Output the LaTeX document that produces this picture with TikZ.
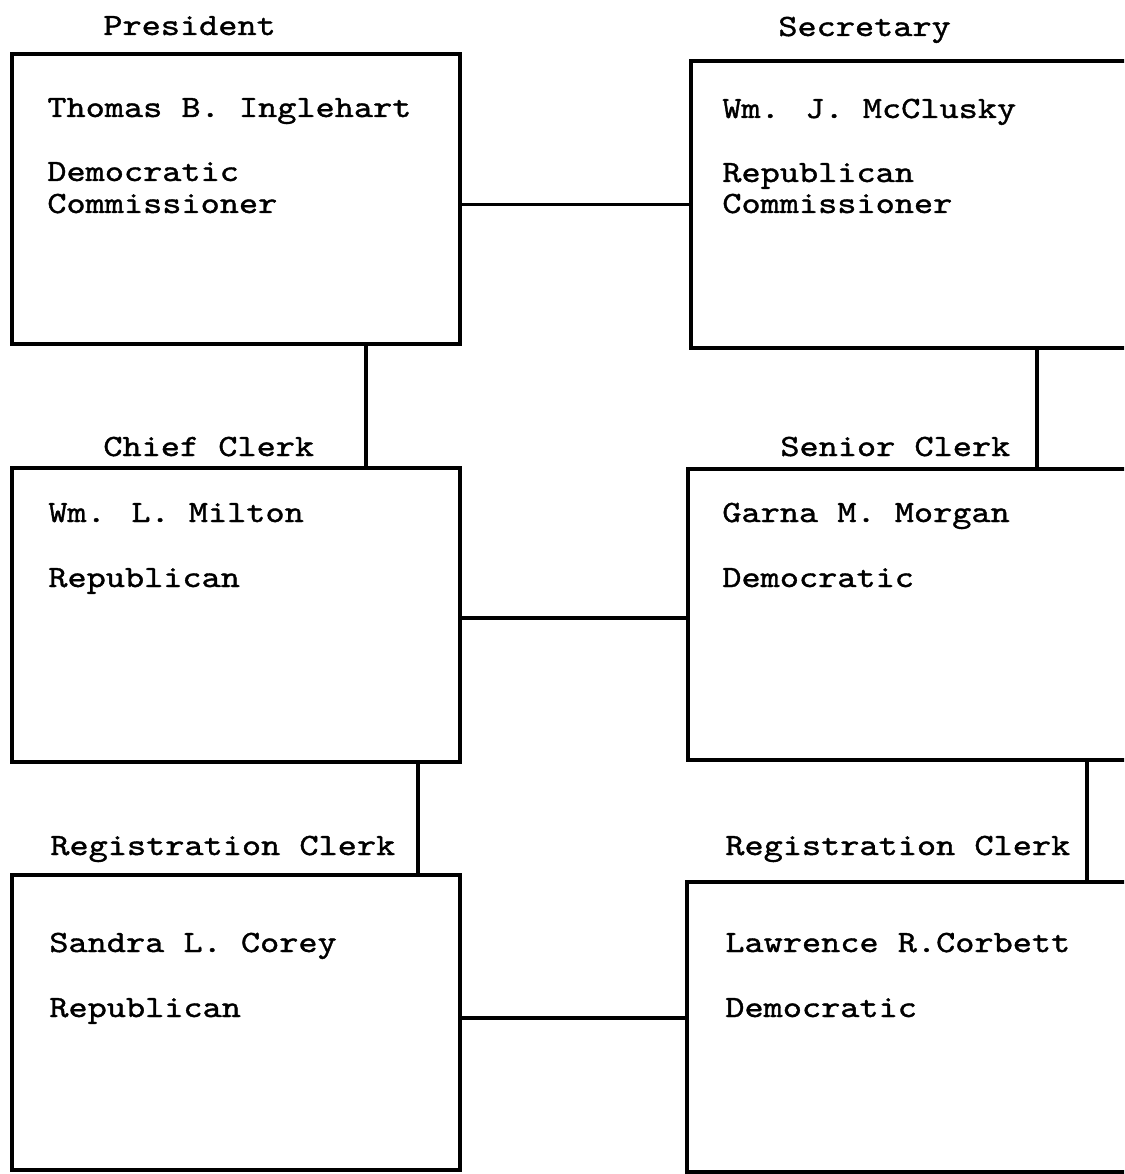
\documentclass[tikz,border=0pt]{standalone}
\usepackage{fontspec}
\newfontfamily\typewriter{lmmono10-regular.otf}[FakeStretch=1.18,FakeBold=1.2]
\tikzset{
    post/.style={draw, line width=2.1pt, anchor=north west, inner sep=0pt, outer sep=0pt},
    who/.style={font=\typewriter\fontsize{17.6}{21}\selectfont, anchor=base west, inner sep=0pt},
    link/.style={line width=2.1pt}
}
\begin{document}
\begin{tikzpicture}[y=-1cm]
    \useasboundingbox (0,0) rectangle (22.48,23.48);
    \clip (0,0) rectangle (22.48,23.48);
            % boxes
            \node[post, minimum width=8.96cm, minimum height=5.80cm] (pres) at (0.24,1.08) {};
            \node[post, minimum width=9.40cm, minimum height=5.74cm] (secr) at (13.82,1.22) {};
            \node[post, minimum width=8.96cm, minimum height=5.88cm] (chief) at (0.24,9.36) {};
            \node[post, minimum width=9.40cm, minimum height=5.82cm] (senior) at (13.76,9.38) {};
            \node[post, minimum width=8.96cm, minimum height=5.90cm] (regl) at (0.24,17.50) {};
            \node[post, minimum width=9.40cm, minimum height=5.80cm] (regr) at (13.74,17.64) {};
            % titles
            \node[who] (presT) at (2.06,0.70) {President};
            \node[who] (secrT) at (15.56,0.72) {Secretary};
            \node[who] (chiefT) at (2.06,9.12) {Chief Clerk};
            \node[who] (seniorT) at (15.60,9.12) {Senior Clerk};
            \node[who] (reglT) at (1.00,17.10) {Registration Clerk};
            \node[who] (regrT) at (14.50,17.10) {Registration Clerk};
            % names and parties
            \node[who] (presN) at (0.94,2.34) {Thomas B. Inglehart};
            \node[who] (presP) at (0.94,3.62) {Democratic};
            \node[who] (presC) at (0.94,4.26) {Commissioner};
            \node[who] (secrN) at (14.44,2.36) {Wm. J. McClusky};
            \node[who] (secrP) at (14.44,3.64) {Republican};
            \node[who] (secrC) at (14.44,4.26) {Commissioner};
            \node[who] (chiefN) at (0.96,10.44) {Wm. L. Milton};
            \node[who] (chiefP) at (0.96,11.74) {Republican};
            \node[who] (seniorN) at (14.44,10.44) {Garna M. Morgan};
            \node[who] (seniorP) at (14.44,11.74) {Democratic};
            \node[who] (reglN) at (0.98,19.04) {Sandra L. Corey};
            \node[who] (reglP) at (0.98,20.34) {Republican};
            \node[who] (regrN) at (14.50,19.04) {Lawrence R.Corbett};
            \node[who] (regrP) at (14.50,20.34) {Democratic};
            % connectors
            \draw[link] (pres.east |- secr.west) -- (secr.west);
            \draw[link] ([yshift=-0.06cm]chief.east) coordinate (m) -- (m -| senior.west);
            \draw[link] ([yshift=0.09cm]regl.east) coordinate (n) -- (n -| regr.west);
            \draw[link] ([xshift=7.08cm]pres.south west) coordinate (a) -- (a |- chief.north);
            \draw[link] ([xshift=6.92cm]secr.south west) coordinate (b) -- (b |- senior.north);
            \draw[link] ([xshift=8.12cm]chief.south west) coordinate (c) -- (c |- regl.north);
            \draw[link] ([xshift=7.98cm]senior.south west) coordinate (d) -- (d |- regr.north);
\end{tikzpicture}
\end{document}
